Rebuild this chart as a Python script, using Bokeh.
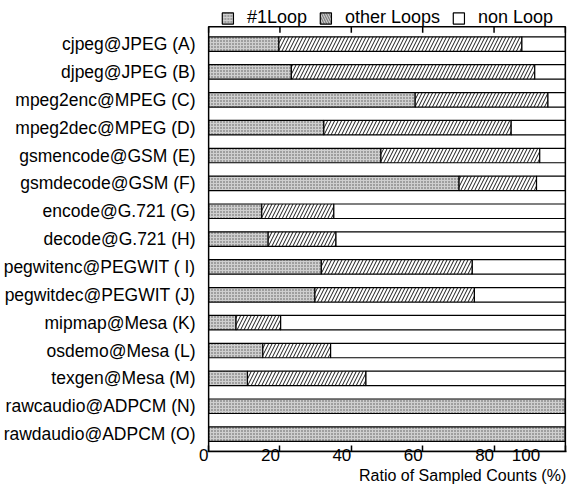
import numpy as np
from bokeh.plotting import figure
from bokeh.models import Range1d, FixedTicker, Legend, LegendItem
from bokeh.embed import file_html
from bokeh.resources import INLINE

# ---- data ----
categories = [
    "cjpeg@JPEG (A)", "djpeg@JPEG (B)", "mpeg2enc@MPEG (C)", "mpeg2dec@MPEG (D)",
    "gsmencode@GSM (E)", "gsmdecode@GSM (F)", "encode@G.721 (G)", "decode@G.721 (H)",
    "pegwitenc@PEGWIT ( I)", "pegwitdec@PEGWIT (J)", "mipmap@Mesa (K)", "osdemo@Mesa (L)",
    "texgen@Mesa (M)", "rawcaudio@ADPCM (N)", "rawdaudio@ADPCM (O)",
]
loop1 = [19.7, 23.2, 57.9, 32.3, 48.3, 70.2, 14.9, 16.7, 31.6, 29.8, 7.7, 15.2, 10.9, 100.0, 100.0]
other_loops = [68.1, 68.2, 37.2, 52.5, 44.5, 21.7, 20.2, 19.0, 42.3, 44.7, 12.5, 19.0, 33.2, 0.0, 0.0]
non_loop = [12.2, 8.6, 4.9, 15.2, 7.2, 8.1, 64.9, 64.3, 26.1, 25.5, 79.8, 65.8, 55.9, 0.0, 0.0]
series_names = ["#1Loop", "other Loops", "non Loop"]
x_ticks = [0, 20, 40, 60, 80, 100]
x_title = "Ratio of Sampled Counts (%)"

FONT = "Liberation Sans"
FSP = "\u2007"  # figure space: pads labels so they sit right-aligned
n = len(categories)
ypos = list(range(n))
pad = 0.625          # space between outer bars and the box
legend_band = 0.94   # room above the box for the legend (in category units)
px_per_unit = 27.6

s1 = np.array(loop1)
s2 = s1 + np.array(other_loops)
s3 = s2 + np.array(non_loop)

y_bottom = n - 1 + pad
y_top = -pad
p = figure(width=568, height=486, output_backend="svg", toolbar_location=None,
           x_range=Range1d(x_ticks[0] - 0.3, x_ticks[-1] + 0.3),
           y_range=Range1d(y_bottom, y_top - legend_band),
           min_border_left=205, min_border_right=2, min_border_top=0, min_border_bottom=0)
p.grid.visible = False
p.outline_line_color = None
p.background_fill_color = "white"

BAR_H = 0.52
style1 = dict(fill_color="#cfcfcf", hatch_pattern="dot", hatch_color="#555555",
              hatch_scale=3, hatch_weight=1, line_color="black", line_width=1.2)
style2 = dict(fill_color="white", hatch_pattern="/", hatch_color="black",
              hatch_scale=7, hatch_weight=0.9, line_color="black", line_width=1.2)
style3 = dict(fill_color="white", line_color="black", line_width=1.2)

r1 = p.hbar(y=ypos, left=np.zeros(n), right=s1, height=BAR_H, **style1)
r2 = p.hbar(y=ypos, left=s1, right=s2, height=BAR_H, **style2)
r3 = p.hbar(y=ypos, left=s2, right=s3, height=BAR_H, **style3)

# box around the bar area, and inward ticks on its top edge
p.quad(left=[x_ticks[0]], right=[x_ticks[-1]], bottom=[y_bottom], top=[y_top],
       fill_color=None, line_color="black", line_width=1.6)
p.segment(x0=x_ticks, x1=x_ticks, y0=[y_top] * len(x_ticks),
          y1=[y_top + 6 / px_per_unit] * len(x_ticks), line_color="black", line_width=1.5)

# legend swatch for "other Loops" (drawn with back-diagonal hatch, zero-size mark)
style2_leg = dict(style2)
style2_leg["hatch_pattern"] = "\\"
style2_leg["hatch_scale"] = 5
lg2 = p.hbar(y=ypos[:1], left=s1[:1], right=s1[:1], height=0, **style2_leg)

legend = Legend(items=[LegendItem(label=series_names[0], renderers=[r1]),
                       LegendItem(label=series_names[1], renderers=[lg2]),
                       LegendItem(label=series_names[2], renderers=[r3])],
                orientation="horizontal", location="top_center", padding=0, margin=7,
                spacing=11, label_standoff=13, glyph_width=14, glyph_height=14,
                label_height=14, border_line_color=None, background_fill_alpha=0,
                label_text_font=FONT, label_text_font_size="18px", label_text_color="black")
p.add_layout(legend)

# x axis
xa = p.xaxis[0]
xa.ticker = FixedTicker(ticks=x_ticks)
xa.major_tick_in = 6
xa.major_tick_out = 0
xa.minor_tick_line_color = None
xa.axis_line_width = 1.5
xa.major_tick_line_width = 1.5
xa.major_label_overrides = {v: str(v) + FSP * len(str(v)) for v in x_ticks}
xa.major_label_text_font = FONT
xa.major_label_text_font_size = "17px"
xa.major_label_text_color = "black"
xa.major_label_text_line_height = 1.0
xa.major_label_standoff = -6
xa.axis_label = FSP * 17 + x_title
xa.axis_label_text_font = FONT
xa.axis_label_text_font_size = "16px"
xa.axis_label_text_font_style = "normal"
xa.axis_label_text_color = "black"
xa.axis_label_text_line_height = 1.0
xa.axis_label_standoff = -1

# y axis (labels only; the box draws the left edge)
ya = p.yaxis[0]
ya.ticker = FixedTicker(ticks=ypos)
ya.major_label_overrides = {i: c for i, c in enumerate(categories)}
ya.major_tick_line_color = None
ya.minor_tick_line_color = None
ya.axis_line_color = None
ya.major_label_standoff = 6
ya.major_label_text_font = FONT
ya.major_label_text_font_size = "17.5px"
ya.major_label_text_color = "black"

open("out.html", "w").write(file_html(p, INLINE))
